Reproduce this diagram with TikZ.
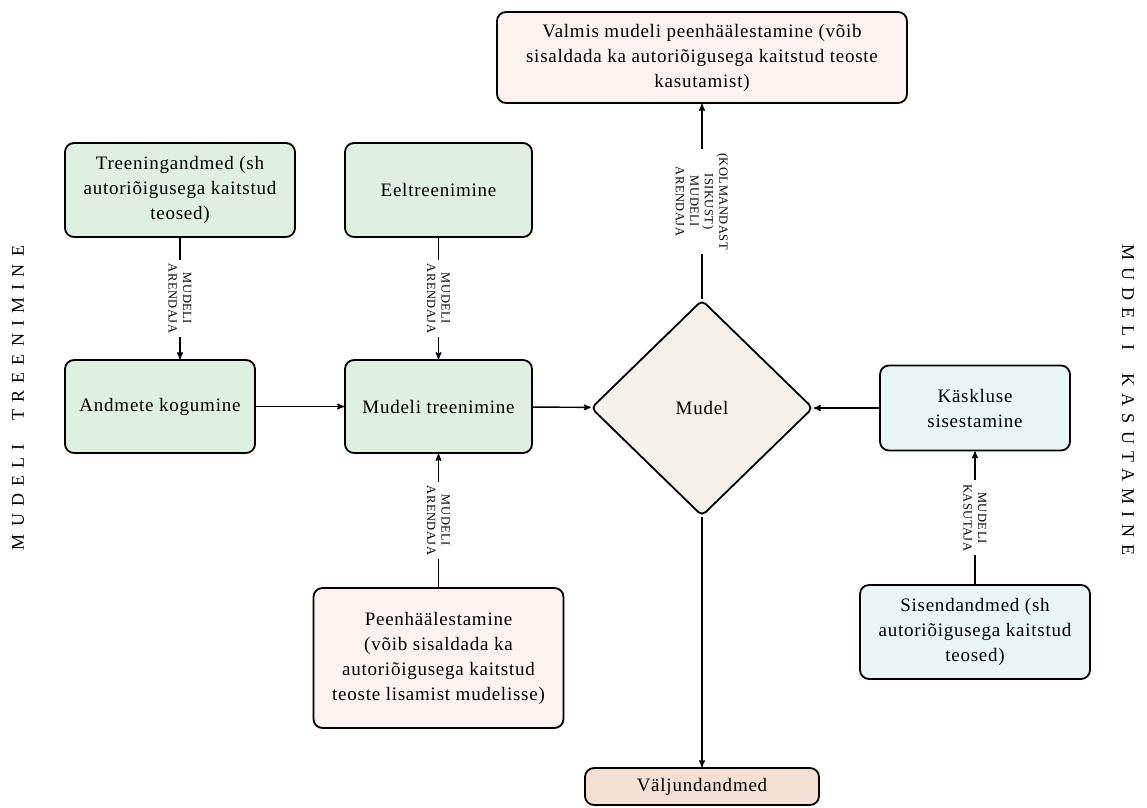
\documentclass[tikz,border=0pt]{standalone}
\usepackage{fontspec}
\setmainfont{Liberation Serif}[LetterSpace=4]
\usetikzlibrary{arrows,shapes}

\definecolor{boxgreen}{RGB}{221,240,226}
\definecolor{boxpink}{RGB}{252,243,241}
\definecolor{boxcyan}{RGB}{234,245,245}
\definecolor{boxbeige}{RGB}{243,241,234}
\definecolor{boxpeach}{RGB}{245,223,211}

\begin{document}
\begin{tikzpicture}[x=1pt,y=-1pt,>=stealth',line width=1.4pt,font=\fontsize{19}{25}\selectfont]
  \tikzset{box/.style={draw,line width=1.8pt,rounded corners=9pt,align=center,inner sep=3pt},
    lbl/.style={fill=white,rotate=-90,align=center,inner sep=4pt,font=\fontsize{12.5}{14.5}\selectfont},
    side/.style={font=\fontsize{18}{20}\selectfont\addfontfeature{LetterSpace=40}}}
  \useasboundingbox (0,0) rectangle (1147,807);
  \node[box,fill=boxpink,minimum width=410pt,minimum height=91pt] (valmis) at (702,57.5)
    {Valmis mudeli peenhäälestamine (võib\\ sisaldada ka autoriõigusega kaitstud teoste\\ kasutamist)};
  \node[box,fill=boxgreen,minimum width=230pt,minimum height=94pt] (treen) at (180,190)
    {Treeningandmed (sh\\ autoriõigusega kaitstud\\ teosed)};
  \node[box,fill=boxgreen,minimum width=187pt,minimum height=94pt] (eeltr) at (438.5,190) {Eeltreenimine};
  \node[box,fill=boxgreen,minimum width=190pt,minimum height=93pt] (andm) at (160,406.5) {Andmete kogumine};
  \node[box,fill=boxgreen,minimum width=187pt,minimum height=93pt] (mtreen) at (438.5,406.5) {Mudeli treenimine};
  \node[diamond,draw,line width=1.8pt,rounded corners=5pt,fill=boxbeige,minimum width=222pt,minimum height=216pt] (mudel) at (702,408) {Mudel};
  \node[box,fill=boxcyan,minimum width=190pt,minimum height=85pt] (kask) at (975,408) {Käskluse\\ sisestamine};
  \node[box,fill=boxpink,minimum width=250pt,minimum height=140pt] (peen) at (438.5,658)
    {Peenhäälestamine\\ (võib sisaldada ka\\ autoriõigusega kaitstud\\ teoste lisamist mudelisse)};
  \node[box,fill=boxcyan,minimum width=230pt,minimum height=94pt] (sisend) at (975,632)
    {Sisendandmed (sh\\ autoriõigusega kaitstud\\ teosed)};
  \node[box,fill=boxpeach,minimum width=234pt,minimum height=37pt] (valj) at (702,786.5) {Väljundandmed};
  \node[side,rotate=90] (trside) at (18,398) {MUDELI \ TREENIMINE};
  \node[side,rotate=-90] (kaside) at (1128,400) {MUDELI \ KASUTAMINE};

  \path[->] (treen.south) edge node[lbl] {MUDELI\\ ARENDAJA} (treen.south |- andm.north);
  \path[->] (eeltr) edge node[lbl] {MUDELI\\ ARENDAJA} (mtreen);
  \path[->] (andm) edge (mtreen);
  \path[->] (mtreen) edge (mudel);
  \path[->] (kask) edge (mudel);
  \path[->] (peen) edge node[lbl] {MUDELI\\ ARENDAJA} (mtreen);
  \path[->] (sisend) edge node[lbl] {MUDELI\\ KASUTAJA} (kask);
  \path[->] (mudel) edge node[lbl] {(KOLMANDAST\\ ISIKUST)\\ MUDELI\\ ARENDAJA} (valmis);
  \path[->] (mudel) edge (valj);
\end{tikzpicture}
\end{document}
